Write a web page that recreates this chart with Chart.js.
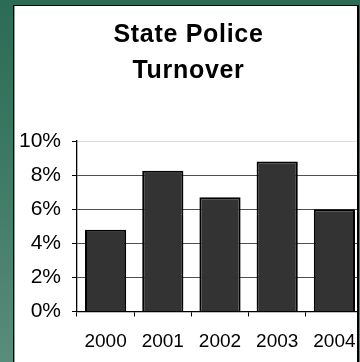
<!DOCTYPE html>
<html>
<head>
<meta charset="utf-8">
<script src="https://cdn.jsdelivr.net/npm/chart.js@4/dist/chart.umd.min.js"></script>
<style>
  html, body {
    margin: 0;
    padding: 0;
    width: 360px;
    height: 362px;
    overflow: hidden;
    background: linear-gradient(to bottom, #2c6b55 0%, #3f7b66 50%, #5a8c7b 100%);
  }
  #frame {
    position: absolute;
    left: 13px;
    top: 5px;
    width: 343px;
    height: 380px;
    background: #ffffff;
    border-left: 1px solid #000;
    border-top: 1px solid #000;
    border-right: 2px solid #000;
    box-shadow: inset 1px 0 0 #9a9a9a;
    overflow: hidden;
  }
  #chart {
    position: absolute;
    left: 0;
    top: 0;
  }
</style>
</head>
<body>
<div id="frame">
  <canvas id="chart" width="349" height="356"></canvas>
</div>
<script>
// Annual turnover rate, state police
const years = ['2000', '2001', '2002', '2003', '2004'];
const turnoverPct = [4.8, 8.25, 6.7, 8.8, 6.0];
const titleLines = ['State Police', 'Turnover'];
const yMin = 0;
const yMax = 10;
const yStep = 2;

const FONT = 'Liberation Sans, Arial, Helvetica, sans-serif';

// Slightly widened lettering for the heading only
const titleSpacing = {
  id: 'titleSpacing',
  afterInit(chart) {
    const block = chart.titleBlock;
    if (!block) return;
    const draw = block.draw.bind(block);
    block.draw = function () {
      const ctx = chart.ctx;
      const prev = ctx.letterSpacing;
      ctx.letterSpacing = '0.7px';
      draw();
      ctx.letterSpacing = prev || '0px';
    };
  }
};

new Chart(document.getElementById('chart'), {
  type: 'bar',
  data: {
    labels: years,
    datasets: [{
      data: turnoverPct,
      backgroundColor: '#333333',
      borderColor: '#000000',
      borderWidth: 2,
      barPercentage: 0.72,
      categoryPercentage: 1.0
    }]
  },
  options: {
    responsive: false,
    animation: false,
    devicePixelRatio: 1,
    layout: { padding: 0 },
    plugins: {
      legend: { display: false },
      tooltip: { enabled: false },
      title: {
        display: true,
        text: titleLines,
        color: '#000',
        font: { family: FONT, size: 25, weight: 'bold', lineHeight: 1.44 },
        padding: { top: 11, bottom: 52 }
      }
    },
    scales: {
      x: {
        afterFit(scale) {
          scale.height = 50.5;
          scale.paddingLeft = 0;
          scale.paddingRight = 0;
        },
        grid: {
          display: true,
          drawOnChartArea: false,
          drawTicks: true,
          tickLength: 5,
          tickColor: '#000',
          tickWidth: 1
        },
        border: { display: true, color: '#000', width: 1.3 },
        ticks: {
          color: '#000',
          padding: 14,
          maxRotation: 0,
          font: { family: FONT, size: 19, lineHeight: 1.2 }
        }
      },
      y: {
        min: yMin,
        max: yMax,
        afterFit(scale) { scale.width = 63; },
        grid: {
          color: (ctx) => (ctx.tick && ctx.tick.value === yMax ? '#dcdcdc' : '#505050'),
          lineWidth: 1,
          tickLength: 5,
          tickColor: '#000',
          tickWidth: 1
        },
        border: { display: true, color: '#000', width: 1.3 },
        ticks: {
          stepSize: yStep,
          color: '#000',
          padding: 11,
          font: { family: FONT, size: 21, lineHeight: 1.2 },
          callback: (v) => v + '%'
        }
      }
    }
  },
  plugins: [titleSpacing]
});
</script>
</body>
</html>
